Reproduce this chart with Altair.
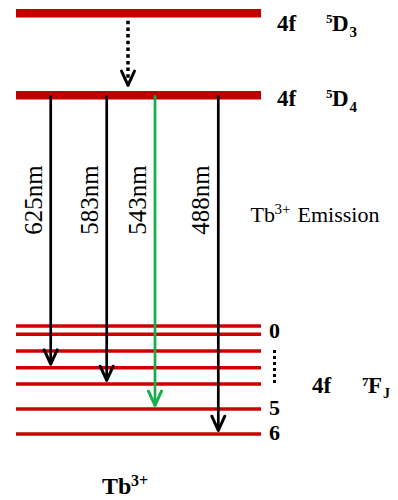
import altair as alt
import pandas as pd

# Tb3+ energy levels on a schematic energy axis (arbitrary units, 0-500)
d_levels = ["5D3", "5D4"]
d_energy = [486.7, 404.7]
f_levels = ["7F0", "7F1", "7F2", "7F3", "7F4", "7F5", "7F6"]
f_energy = [174.0, 165.7, 149.0, 132.3, 116.0, 91.0, 66.0]

# radiative emissions 5D4 -> 7FJ
wavelengths = ["625nm", "583nm", "543nm", "488nm"]
final_j = [3, 4, 5, 6]

# ---- layout -------------------------------------------------------------
W, H = 398, 500
LEVEL_X0, LEVEL_X1 = 16, 261
ARROW_X = [50.7, 106.7, 155.0, 218.3]
RELAX_X = 128.0
FONT = "Liberation Serif"
RED_D = "#c00000"
RED_F = "#cc0000"
GREEN = "#12b04a"
HEAD = "M-1,-2.2L0,0L1,-2.2"

x_scale = alt.Scale(domain=[0, W], nice=False, zero=False)
y_scale = alt.Scale(domain=[0, H], nice=False, zero=False)
X = lambda f: alt.X(f, type="quantitative", scale=x_scale, axis=None)
Y = lambda f: alt.Y(f, type="quantitative", scale=y_scale, axis=None)

d_df = pd.DataFrame({"level": d_levels, "e": d_energy, "x0": LEVEL_X0, "x1": LEVEL_X1})
f_df = pd.DataFrame({"level": f_levels, "e": f_energy, "x0": LEVEL_X0, "x1": LEVEL_X1})

d_rules = alt.Chart(d_df).mark_rule(color=RED_D, strokeWidth=8.5).encode(
    x=X("x0"), x2="x1", y=Y("e"))
f_rules = alt.Chart(f_df).mark_rule(color=RED_F, strokeWidth=3.6).encode(
    x=X("x0"), x2="x1", y=Y("e"))

# emission arrows start on 5D4 and end just above the 7FJ line
upper = d_energy[1]
em_df = pd.DataFrame({
    "wl": wavelengths,
    "x": ARROW_X,
    "e0": upper,
    "e1": [f_energy[j] + 3.5 for j in final_j],
    "color": ["black" if w != "543nm" else GREEN for w in wavelengths],
})
em_df["xl"] = em_df["x"] - 9
em_df["el"] = 300

stems = alt.Chart(em_df).mark_rule(strokeWidth=2.7).encode(
    x=X("x"), y=Y("e0"), y2="e1", color=alt.Color("color:N", scale=None))
heads = alt.Chart(em_df).mark_point(
    shape=HEAD, filled=False, size=169, strokeWidth=3, opacity=1,
    strokeJoin="round", strokeCap="round").encode(
    x=X("x"), y=Y("e1"), color=alt.Color("color:N", scale=None))
wl_text = alt.Chart(em_df).mark_text(
    angle=270, align="center", baseline="alphabetic", font=FONT,
    fontSize=25, color="black").encode(x=X("xl"), y=Y("el"), text="wl:N")

# non-radiative relaxation 5D3 -> 5D4
nr_df = pd.DataFrame({"x": [RELAX_X], "e0": [d_energy[0] - 7.4], "e1": [d_energy[1] + 10]})
nr_stem = alt.Chart(nr_df).mark_rule(strokeWidth=3.5, strokeDash=[3.5, 3.2], color="black").encode(
    x=X("x"), y=Y("e0"), y2="e1")
nr_head = alt.Chart(nr_df).mark_point(
    shape=HEAD, filled=False, size=169, strokeWidth=3, opacity=1, color="black",
    strokeJoin="round", strokeCap="round").encode(x=X("x"), y=Y("e1"))

# dotted ellipsis between J = 0 and J = 5
dots_df = pd.DataFrame({"x": [274.5], "e0": [150.0], "e1": [115.0]})
dots = alt.Chart(dots_df).mark_rule(strokeWidth=3, strokeDash=[3, 3], color="black").encode(
    x=X("x"), y=Y("e0"), y2="e1")


def label(text, x, e, size, bold=True):
    df = pd.DataFrame({"x": [x], "e": [e], "t": [text]})
    return alt.Chart(df).mark_text(
        align="left", baseline="alphabetic", font=FONT, fontSize=size,
        fontWeight="bold" if bold else "normal", color="black").encode(
        x=X("x"), y=Y("e"), text="t:N")


labels = [
    # 4f 5D3
    label("4f", 277, 469, 23), label("5", 326, 477, 13), label("D", 332, 469, 23), label("3", 349.5, 463.5, 15),
    # 4f 5D4
    label("4f", 277, 394, 23), label("5", 326, 402, 13), label("D", 332, 394, 23), label("4", 349.5, 388.5, 15),
    # 4f 7FJ
    label("4f", 312, 107, 23), label("7", 362, 114.5, 13), label("F", 368, 107, 23), label("J", 383, 102, 14),
    # J numbers
    label("0", 269, 162, 22), label("5", 269, 85, 22), label("6", 269, 60, 22),
    # emission caption
    label("Tb", 250.5, 278.5, 22, bold=False), label("3+", 274.5, 286, 15, bold=False),
    label("Emission", 297.5, 278.5, 22, bold=False),
    # ion
    label("Tb", 102, 6, 24), label("3+", 131, 14, 16),
]

chart = alt.layer(
    d_rules, f_rules, stems, heads, wl_text, nr_stem, nr_head, dots, *labels
).properties(
    width=W, height=H, padding=0, autosize=alt.AutoSizeParams(type="none"),
    background="white",
).configure_view(stroke=None)

chart.save("out.html", embed_options={"renderer": "svg", "actions": False})
